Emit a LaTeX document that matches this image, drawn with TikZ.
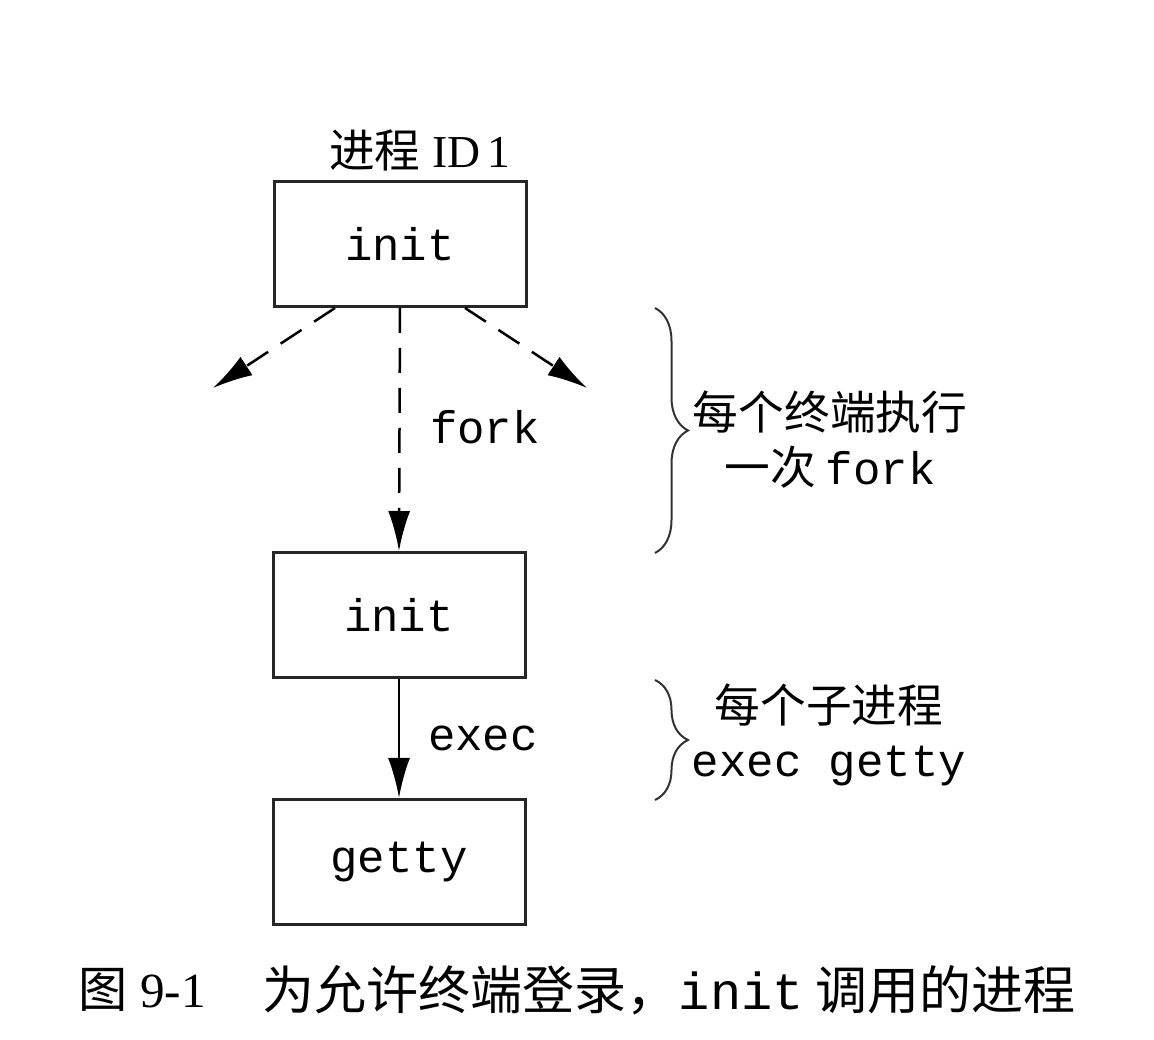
\documentclass[tikz,border=0pt]{standalone}
\usepackage{fontspec}
\setmainfont{Liberation Serif}
\setmonofont{Liberation Mono}
\newfontfamily\cjk{Noto Sans CJK SC}
\usetikzlibrary{arrows.meta}
\usetikzlibrary{decorations.pathreplacing}

\begin{document}
\begin{tikzpicture}[
  procbox/.style={draw, line width=0.03cm, color=black!85, minimum width=2.52cm,
                  minimum height=1.25cm, inner sep=0cm,
                  text=black, font=\ttfamily\fontsize{13}{15}\selectfont},
  codelbl/.style={font=\ttfamily\fontsize{13}{15}\selectfont},
  notelbl/.style={align=center, font=\cjk\fontsize{13}{15.6}\selectfont},
  forkarrow/.style={line width=0.025cm, dash pattern=on 0.25cm off 0.15cm,
                    -{Latex[length=0.4cm,width=0.22cm]}},
  execarrow/.style={line width=0.025cm, -{Latex[length=0.4cm,width=0.22cm]}},
  bracket/.style={line width=0.02cm, color=black!80,
                  decorate, decoration={brace, amplitude=0.33cm}}
]
\useasboundingbox (0,0) rectangle (11.54,-10.40);

\node[font=\fontsize{13}{15}\selectfont] (pid) at (4.20,-1.50) {{\cjk 进程} ID\,1};

\node[procbox] (init1) at (4.00,-2.44) {init};
\node[procbox] (init2) at (3.99,-6.15) {init};
\node[procbox] (getty) at (3.99,-8.62) {getty};

\coordinate (forkL) at (2.13,-3.88);
\coordinate (forkR) at (5.87,-3.88);

\draw[forkarrow] ([xshift=-0.65cm]init1.south) -- (forkL);
\draw[forkarrow] ([xshift=0.65cm]init1.south) -- (forkR);
\draw[forkarrow] (init1.south) -- (init2.north);
\node[codelbl] (forklbl) at (4.85,-4.27) {fork};

\draw[execarrow] (init2.south) -- (getty.north);
\node[codelbl] (execlbl) at (4.83,-7.38) {exec};

\coordinate (bA1) at (6.55,-3.08);
\coordinate (bA2) at (6.55,-5.53);
\coordinate (bB1) at (6.55,-6.80);
\coordinate (bB2) at (6.55,-8.00);
\draw[bracket] (bA1) -- (bA2);
\draw[bracket] (bB1) -- (bB2);

\node[notelbl] (forknote) at (8.30,-4.40) {每个终端执行\\一次\ \texttt{fork}};
\node[notelbl] (execnote) at (8.29,-7.35) {每个子进程\\\texttt{exec getty}};

\node[anchor=west, inner sep=0cm, font=\fontsize{14}{16}\selectfont] (capno) at (0.78,-9.90) {{\cjk 图} 9-1};
\node[anchor=west, inner sep=0cm, font=\cjk\fontsize{14.8}{17}\selectfont] (captext) at (2.62,-9.90)
  {为允许终端登录，\texttt{init} 调用的进程};
\end{tikzpicture}
\end{document}
